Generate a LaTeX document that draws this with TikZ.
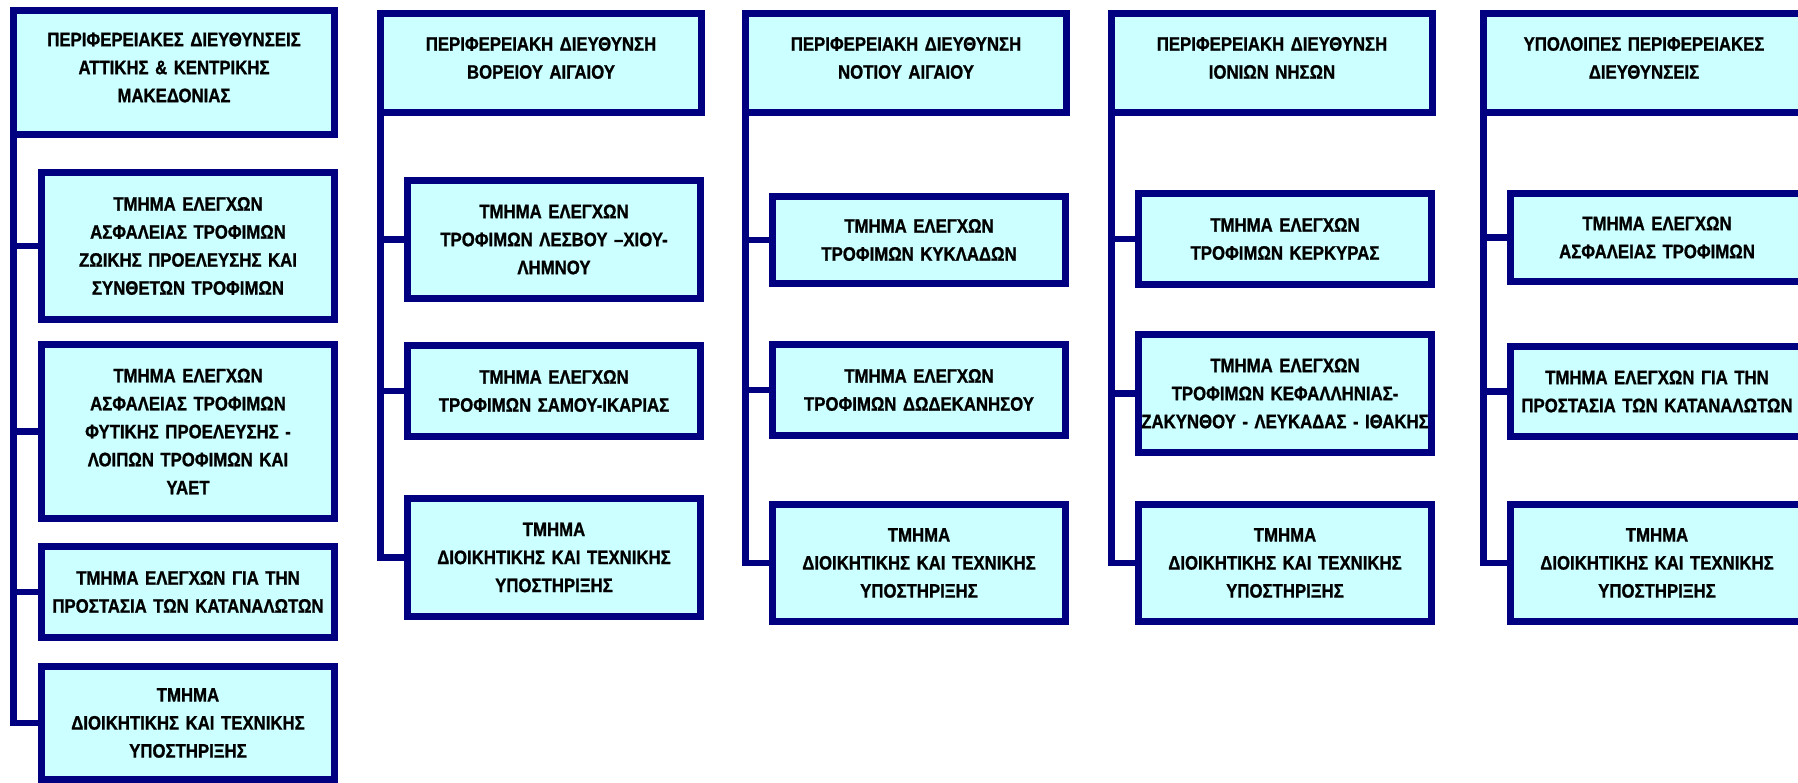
\documentclass[tikz,border=0pt]{standalone}
\usepackage{fontspec}
\setmainfont{Liberation Sans}[FakeStretch=0.86,FakeBold=1]
\definecolor{boxline}{RGB}{0,0,128}
\definecolor{boxfill}{RGB}{204,255,255}
\tikzset{
  unit/.style={draw=boxline, fill=boxfill, line width=7pt, outer sep=0pt, inner sep=0pt,
    align=center, font=\bfseries\fontsize{19.5}{28}\selectfont},
  head/.style={unit, minimum width=321pt, text width=314pt,
    execute at end node={\par\vspace{10pt}}},
  dept/.style={unit, minimum width=293pt, text width=286pt},
  link/.style={draw=boxline, line width=6.5pt},
}
\newcommand{\wideline}[1]{\makebox[\linewidth]{#1}}
\begin{document}
\begin{tikzpicture}[x=1pt,y=-1pt]
  \useasboundingbox (0,0) rectangle (1798,783);
  % Attiki & Kentriki Makedonia
  \node[head, minimum height=124pt] (a0) at (174,72.5) {ΠΕΡΙΦΕΡΕΙΑΚΕΣ ΔΙΕΥΘΥΝΣΕΙΣ\\ΑΤΤΙΚΗΣ \& ΚΕΝΤΡΙΚΗΣ\\ΜΑΚΕΔΟΝΙΑΣ};
  \node[dept, minimum height=147pt] (a1) at (188,246) {ΤΜΗΜΑ ΕΛΕΓΧΩΝ\\ΑΣΦΑΛΕΙΑΣ ΤΡΟΦΙΜΩΝ\\ΖΩΙΚΗΣ ΠΡΟΕΛΕΥΣΗΣ ΚΑΙ\\ΣΥΝΘΕΤΩΝ ΤΡΟΦΙΜΩΝ};
  \node[dept, minimum height=174pt] (a2) at (188,431.5) {ΤΜΗΜΑ ΕΛΕΓΧΩΝ\\ΑΣΦΑΛΕΙΑΣ ΤΡΟΦΙΜΩΝ\\ΦΥΤΙΚΗΣ ΠΡΟΕΛΕΥΣΗΣ -\\ΛΟΙΠΩΝ ΤΡΟΦΙΜΩΝ ΚΑΙ\\ΥΑΕΤ};
  \node[dept, minimum height=91pt] (a3) at (188,592) {ΤΜΗΜΑ ΕΛΕΓΧΩΝ ΓΙΑ ΤΗΝ\\\wideline{ΠΡΟΣΤΑΣΙΑ ΤΩΝ ΚΑΤΑΝΑΛΩΤΩΝ}};
  \node[dept, minimum height=113pt] (a4) at (188,723) {ΤΜΗΜΑ\\ΔΙΟΙΚΗΤΙΚΗΣ ΚΑΙ ΤΕΧΝΙΚΗΣ\\ΥΠΟΣΤΗΡΙΞΗΣ};
  % Voreio Aigaio
  \node[head, minimum height=99pt] (b0) at (541,63) {ΠΕΡΙΦΕΡΕΙΑΚΗ ΔΙΕΥΘΥΝΣΗ\\ΒΟΡΕΙΟΥ ΑΙΓΑΙΟΥ};
  \node[dept, minimum height=118pt] (b1) at (554,239.5) {ΤΜΗΜΑ ΕΛΕΓΧΩΝ\\ΤΡΟΦΙΜΩΝ ΛΕΣΒΟΥ –ΧΙΟΥ-\\ΛΗΜΝΟΥ};
  \node[dept, minimum height=91pt] (b2) at (554,391) {ΤΜΗΜΑ ΕΛΕΓΧΩΝ\\ΤΡΟΦΙΜΩΝ ΣΑΜΟΥ-ΙΚΑΡΙΑΣ};
  \node[dept, minimum height=118pt] (b3) at (554,557.5) {ΤΜΗΜΑ\\ΔΙΟΙΚΗΤΙΚΗΣ ΚΑΙ ΤΕΧΝΙΚΗΣ\\ΥΠΟΣΤΗΡΙΞΗΣ};
  % Notio Aigaio
  \node[head, minimum height=99pt] (c0) at (906,63) {ΠΕΡΙΦΕΡΕΙΑΚΗ ΔΙΕΥΘΥΝΣΗ\\ΝΟΤΙΟΥ ΑΙΓΑΙΟΥ};
  \node[dept, minimum height=87pt] (c1) at (919,240) {ΤΜΗΜΑ ΕΛΕΓΧΩΝ\\ΤΡΟΦΙΜΩΝ ΚΥΚΛΑΔΩΝ};
  \node[dept, minimum height=91pt] (c2) at (919,390) {ΤΜΗΜΑ ΕΛΕΓΧΩΝ\\ΤΡΟΦΙΜΩΝ ΔΩΔΕΚΑΝΗΣΟΥ};
  \node[dept, minimum height=117pt] (c3) at (919,563) {ΤΜΗΜΑ\\ΔΙΟΙΚΗΤΙΚΗΣ ΚΑΙ ΤΕΧΝΙΚΗΣ\\ΥΠΟΣΤΗΡΙΞΗΣ};
  % Ionia Nisia
  \node[head, minimum height=99pt] (d0) at (1272,63) {ΠΕΡΙΦΕΡΕΙΑΚΗ ΔΙΕΥΘΥΝΣΗ\\ΙΟΝΙΩΝ ΝΗΣΩΝ};
  \node[dept, minimum height=91pt] (d1) at (1285,239) {ΤΜΗΜΑ ΕΛΕΓΧΩΝ\\ΤΡΟΦΙΜΩΝ ΚΕΡΚΥΡΑΣ};
  \node[dept, minimum height=118pt] (d2) at (1285,393.5) {ΤΜΗΜΑ ΕΛΕΓΧΩΝ\\ΤΡΟΦΙΜΩΝ ΚΕΦΑΛΛΗΝΙΑΣ-\\\wideline{ΖΑΚΥΝΘΟΥ - ΛΕΥΚΑΔΑΣ - ΙΘΑΚΗΣ}};
  \node[dept, minimum height=117pt] (d3) at (1285,563) {ΤΜΗΜΑ\\ΔΙΟΙΚΗΤΙΚΗΣ ΚΑΙ ΤΕΧΝΙΚΗΣ\\ΥΠΟΣΤΗΡΙΞΗΣ};
  % the other regions
  \node[head, minimum height=99pt] (e0) at (1644,63) {ΥΠΟΛΟΙΠΕΣ ΠΕΡΙΦΕΡΕΙΑΚΕΣ\\ΔΙΕΥΘΥΝΣΕΙΣ};
  \node[dept, minimum height=88pt] (e1) at (1657,237.5) {ΤΜΗΜΑ ΕΛΕΓΧΩΝ\\ΑΣΦΑΛΕΙΑΣ ΤΡΟΦΙΜΩΝ};
  \node[dept, minimum height=90pt] (e2) at (1657,391.5) {ΤΜΗΜΑ ΕΛΕΓΧΩΝ ΓΙΑ ΤΗΝ\\\wideline{ΠΡΟΣΤΑΣΙΑ ΤΩΝ ΚΑΤΑΝΑΛΩΤΩΝ}};
  \node[dept, minimum height=117pt] (e3) at (1657,563) {ΤΜΗΜΑ\\ΔΙΟΙΚΗΤΙΚΗΣ ΚΑΙ ΤΕΧΝΙΚΗΣ\\ΥΠΟΣΤΗΡΙΞΗΣ};
  % trunks
  \foreach \n in {a1,a2,a3,a4} \draw[link] (a0.south west) |- (\n.west);
  \foreach \n in {b1,b2,b3} \draw[link] (b0.south west) |- (\n.west);
  \foreach \n in {c1,c2,c3} \draw[link] (c0.south west) |- (\n.west);
  \foreach \n in {d1,d2,d3} \draw[link] (d0.south west) |- (\n.west);
  \foreach \n in {e1,e2,e3} \draw[link] (e0.south west) |- (\n.west);
\end{tikzpicture}
\end{document}
